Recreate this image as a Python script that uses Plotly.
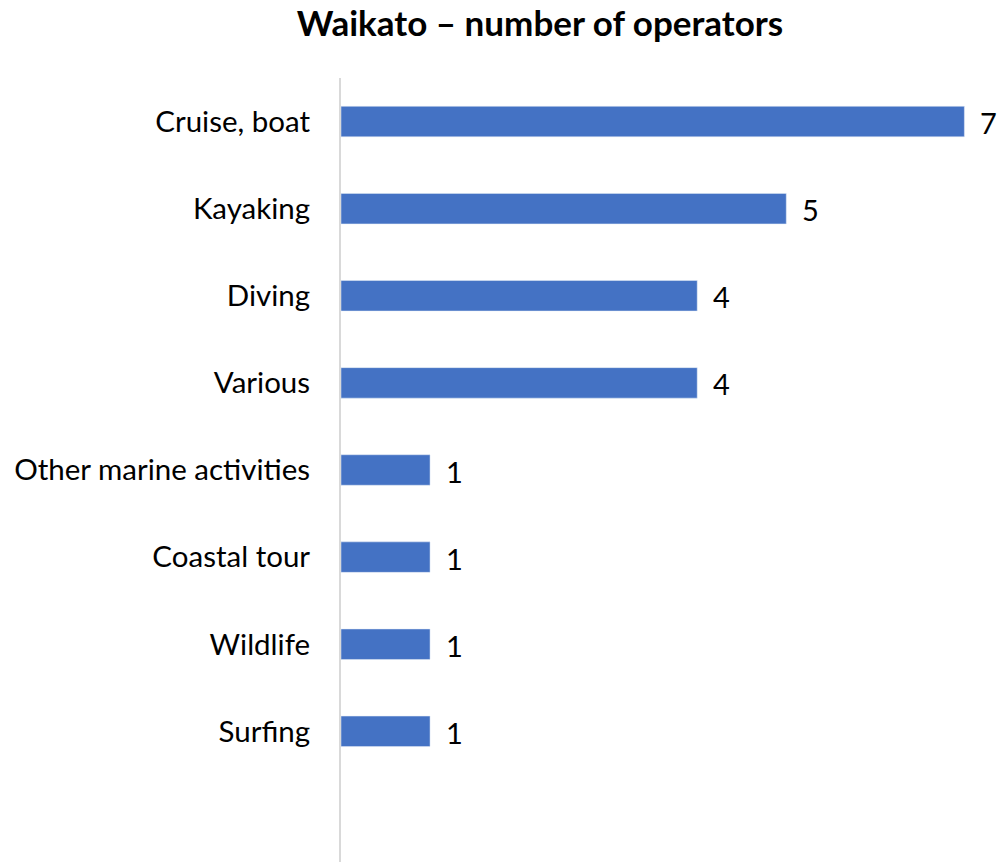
import plotly.graph_objects as go

categories = ["Cruise, boat", "Kayaking", "Diving", "Various",
              "Other marine activities", "Coastal tour", "Wildlife", "Surfing"]
values = [7, 5, 4, 4, 1, 1, 1, 1]

fig = go.Figure(go.Bar(
    x=values, y=categories, orientation="h",
    marker=dict(color="#4472C4"),
    width=0.35,
    cliponaxis=False,
))

for c, v in zip(categories, values):
    fig.add_annotation(x=v, y=c, text=str(v), showarrow=False, xanchor="left",
                       xshift=14, yshift=-1, font=dict(size=29, color="#000000"))

fig.update_layout(
    width=1000, height=862,
    margin=dict(l=341, r=0, t=78, b=0),
    paper_bgcolor="white", plot_bgcolor="white",
    font=dict(family="Lato", size=29, color="#000000"),
    title=dict(text="<b>Waikato – number of operators</b>", x=0.54, xanchor="center",
               y=0.972, yanchor="middle", font=dict(size=35)),
    showlegend=False,
)
fig.update_xaxes(range=[0, 7.4], visible=False)
fig.update_yaxes(type="category", range=[8.5, -0.5], showline=True, linecolor="#D9D9D9",
                 linewidth=2, ticks="", showgrid=False, ticklabelstandoff=23,
                 tickfont=dict(size=29.5))
fig.write_html("out.html", config={"displayModeBar": False},
               post_script="document.body.style.margin='0';")
